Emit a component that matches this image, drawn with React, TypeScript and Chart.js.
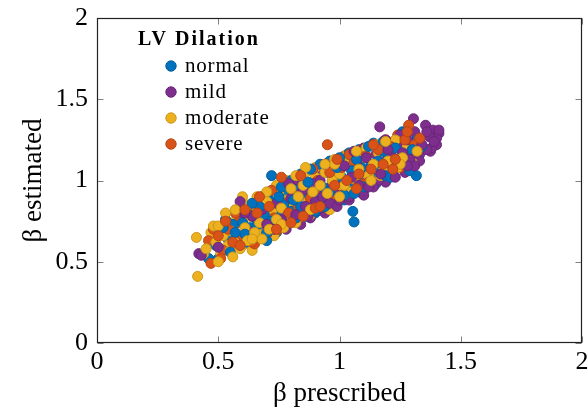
import React, { useEffect, useRef } from 'react';
import { Chart, registerables } from 'chart.js';

Chart.register(...registerables);

const legendTitle = 'LV Dilation';
const seriesNames = ['normal', 'mild', 'moderate', 'severe'];
const seriesColors = ['#0072bd', '#7e2f8e', '#edb120', '#d95319'];
const seriesBorders = ['#005f9e', '#682577', '#c9971b', '#b84515'];
const xTickValues = [0, 0.5, 1, 1.5, 2];
const yTickValues = [0, 0.5, 1, 1.5, 2];
const xTitle = 'β prescribed';
const yTitle = 'β estimated';

const normalPoints: [number, number][] = [
  [0.46, 0.52], [0.49, 0.6], [0.52, 0.71], [0.54, 0.64], [0.56, 0.73], [0.57, 0.68], [0.58, 0.62],
  [0.6, 0.74], [0.61, 0.67], [0.62, 0.8], [0.63, 0.71], [0.64, 0.65], [0.65, 0.77], [0.66, 0.72],
  [0.67, 0.84], [0.68, 0.7], [0.69, 0.79], [0.7, 0.63], [0.71, 0.88], [0.72, 1.03], [0.72, 0.75],
  [0.73, 0.82], [0.74, 0.68], [0.75, 0.9], [0.76, 0.79], [0.77, 0.85], [0.78, 0.73], [0.79, 0.93],
  [0.8, 0.81], [0.81, 0.88], [0.82, 0.76], [0.83, 0.97], [0.84, 0.84], [0.85, 0.91], [0.86, 0.78],
  [0.87, 0.99], [0.88, 0.86], [0.89, 0.94], [0.9, 0.81], [0.91, 1.02], [0.92, 0.9], [0.93, 0.96],
  [0.94, 0.85], [0.95, 1.05], [0.96, 0.93], [0.97, 0.99], [0.98, 0.88], [0.99, 1.08], [1.0, 0.95],
  [1.01, 1.02], [1.02, 0.91], [1.03, 1.1], [1.04, 0.98], [1.05, 1.06], [1.055, 0.81], [1.06, 0.745],
  [1.07, 1.13], [1.08, 1.0], [1.09, 1.08], [1.1, 0.96], [1.11, 1.15], [1.12, 1.04], [1.13, 1.1],
  [1.14, 1.23], [1.15, 1.01], [1.16, 1.12], [1.17, 1.07], [1.18, 1.18], [1.19, 1.03], [1.2, 1.14],
  [1.22, 1.09], [1.23, 1.2], [1.24, 1.12], [1.26, 1.3], [1.27, 1.16], [1.28, 1.23], [1.29, 1.06],
  [1.3, 1.19], [1.317, 1.03], [1.32, 1.25], [1.34, 1.21],
  [0.5, 0.52], [0.53, 0.76], [0.55, 0.56], [0.59, 0.82], [0.62, 0.62], [0.64, 0.86], [0.66, 0.66],
  [0.68, 0.9], [0.7, 0.68], [0.71, 0.93], [0.74, 0.72], [0.76, 0.96], [0.78, 0.74], [0.8, 1.0],
  [0.82, 0.77], [0.84, 1.04], [0.86, 0.8], [0.88, 1.07], [0.9, 0.8], [0.92, 1.1], [0.94, 0.84],
  [0.96, 1.12], [0.98, 0.87], [1.0, 1.14], [1.02, 0.88], [1.04, 1.17], [1.06, 0.92], [1.08, 1.19],
  [1.1, 0.94], [1.12, 1.21], [1.15, 0.98], [1.18, 1.24], [1.21, 1.02], [1.25, 1.27], [1.29, 1.1],
];

const mildPoints: [number, number][] = [
  [0.42, 0.55], [0.43, 0.54], [0.5, 0.59], [0.55, 0.7], [0.58, 0.63], [0.59, 0.87], [0.6, 0.76],
  [0.62, 0.69], [0.64, 0.78], [0.66, 0.66], [0.68, 0.82], [0.7, 0.73], [0.72, 0.69], [0.74, 0.86],
  [0.76, 0.76], [0.78, 0.7], [0.8, 0.89], [0.82, 0.79], [0.84, 0.73], [0.85, 0.94], [0.86, 0.84],
  [0.88, 0.77], [0.89, 0.98], [0.9, 0.87], [0.91, 0.82], [0.92, 1.0], [0.93, 0.9], [0.94, 0.8],
  [0.95, 0.95], [0.96, 0.86], [0.97, 1.06], [0.98, 0.92], [0.99, 0.84], [1.0, 0.99], [1.01, 0.9],
  [1.02, 1.09], [1.03, 0.95], [1.04, 0.88], [1.05, 1.02], [1.06, 0.93], [1.07, 1.11], [1.08, 0.97],
  [1.09, 1.05], [1.1, 0.91], [1.11, 1.14], [1.12, 1.0], [1.13, 1.08], [1.14, 0.96], [1.15, 1.16],
  [1.166, 1.33], [1.17, 1.04], [1.18, 1.11], [1.19, 0.99], [1.2, 1.19], [1.21, 1.07], [1.22, 1.14],
  [1.23, 1.02], [1.24, 1.22], [1.25, 1.1], [1.26, 1.17], [1.27, 1.05], [1.28, 1.25], [1.29, 1.13],
  [1.3, 1.2], [1.305, 1.38], [1.31, 1.09], [1.32, 1.27], [1.33, 1.16], [1.34, 1.22], [1.355, 1.34],
  [1.36, 1.19], [1.37, 1.27], [1.375, 1.18], [1.385, 1.31], [1.39, 1.24], [1.4, 1.22], [1.41, 1.29],
  [1.41, 1.31],
  [0.52, 0.72], [0.57, 0.6], [0.61, 0.8], [0.65, 0.64], [0.69, 0.88], [0.73, 0.7], [0.75, 0.95],
  [0.77, 0.72], [0.79, 0.98], [0.81, 0.76], [0.83, 1.0], [0.87, 0.78], [0.9, 1.06], [0.92, 0.83],
  [0.94, 1.1], [0.96, 0.85], [0.98, 1.12], [1.0, 0.88], [1.02, 1.15], [1.04, 0.9], [1.06, 1.18],
  [1.08, 0.93], [1.1, 1.2], [1.12, 0.96], [1.14, 1.22], [1.16, 1.0], [1.19, 1.25], [1.22, 1.03],
  [1.25, 1.28], [1.28, 1.09], [1.31, 1.3], [1.33, 1.12], [1.36, 1.3], [1.38, 1.2], [1.4, 1.26],
];

const moderatePoints: [number, number][] = [
  [0.41, 0.65], [0.415, 0.41], [0.45, 0.58], [0.47, 0.68], [0.49, 0.62], [0.5, 0.72], [0.51, 0.55],
  [0.52, 0.66], [0.53, 0.8], [0.54, 0.6], [0.55, 0.69], [0.56, 0.53], [0.57, 0.75], [0.58, 0.65],
  [0.59, 0.58], [0.6, 0.9], [0.61, 0.71], [0.62, 0.63], [0.63, 0.78], [0.64, 0.57], [0.65, 0.68],
  [0.66, 0.83], [0.67, 0.74], [0.68, 0.64], [0.69, 0.77], [0.7, 0.87], [0.71, 0.7], [0.72, 0.81],
  [0.73, 0.66], [0.74, 0.76], [0.75, 0.92], [0.76, 0.83], [0.77, 0.71], [0.78, 0.88], [0.79, 0.78],
  [0.8, 0.95], [0.81, 0.85], [0.82, 0.74], [0.83, 0.9], [0.84, 0.8], [0.85, 0.97], [0.86, 1.08],
  [0.87, 0.87], [0.88, 0.79], [0.89, 0.93], [0.9, 1.02], [0.91, 0.84], [0.92, 0.97], [0.93, 0.89],
  [0.94, 1.05], [0.95, 0.92], [0.96, 0.82], [0.97, 1.0], [0.98, 1.1], [0.99, 0.94], [1.0, 1.04],
  [1.02, 0.97], [1.04, 1.12], [1.06, 1.01], [1.08, 1.07], [1.1, 1.14], [1.12, 1.03], [1.14, 1.1],
  [1.16, 1.17], [1.18, 1.06], [1.2, 1.12], [1.22, 1.19], [1.24, 1.08], [1.26, 1.14], [1.28, 1.21],
  [1.3, 1.11], [1.32, 1.18],
  [0.44, 0.55], [0.48, 0.72], [0.5, 0.5], [0.53, 0.74], [0.55, 0.57], [0.57, 0.82], [0.6, 0.6],
  [0.62, 0.85], [0.64, 0.64], [0.66, 0.9], [0.68, 0.67], [0.7, 0.93], [0.72, 0.7], [0.74, 0.97],
  [0.76, 0.73], [0.78, 1.0], [0.8, 0.76], [0.82, 1.03], [0.84, 0.78], [0.86, 1.05], [0.88, 0.82],
  [0.9, 1.08], [0.92, 0.85], [0.94, 1.1], [0.96, 0.88], [0.98, 1.13], [1.0, 0.9], [1.03, 1.16],
  [1.05, 0.93], [1.07, 1.18], [1.09, 0.97], [1.11, 1.2], [1.13, 1.0], [1.15, 1.22], [1.17, 1.03],
  [1.19, 1.24], [1.21, 1.06], [1.23, 1.25], [1.25, 1.1], [1.27, 1.27],
];

const severePoints: [number, number][] = [
  [0.46, 0.63], [0.47, 0.49], [0.5, 0.66], [0.52, 0.57], [0.54, 0.7], [0.56, 0.62], [0.58, 0.74],
  [0.6, 0.66], [0.61, 0.82], [0.63, 0.7], [0.65, 0.61], [0.66, 0.8], [0.68, 0.73], [0.7, 0.67],
  [0.71, 0.84], [0.73, 0.77], [0.75, 0.7], [0.76, 1.02], [0.77, 0.86], [0.79, 0.8], [0.8, 0.74],
  [0.81, 0.92], [0.83, 0.84], [0.85, 0.78], [0.86, 0.96], [0.88, 0.89], [0.9, 0.83], [0.91, 1.0],
  [0.93, 0.93], [0.95, 1.22], [0.95, 0.87], [0.96, 1.05], [0.98, 0.97], [1.0, 0.91], [1.01, 1.08],
  [1.03, 1.0], [1.05, 0.94], [1.06, 1.12], [1.08, 1.04], [1.1, 0.98], [1.11, 1.15], [1.13, 1.07],
  [1.15, 1.02], [1.16, 1.19], [1.18, 1.1], [1.2, 1.05], [1.21, 1.21], [1.23, 1.13], [1.25, 1.08],
  [1.27, 1.25], [1.285, 1.34], [1.29, 1.16], [1.31, 1.22], [1.33, 1.26],
  [0.48, 0.7], [0.51, 0.52], [0.53, 0.75], [0.55, 0.56], [0.57, 0.8], [0.59, 0.6], [0.62, 0.84],
  [0.64, 0.62], [0.67, 0.9], [0.69, 0.66], [0.72, 0.94], [0.74, 0.7], [0.78, 0.98], [0.82, 0.77],
  [0.84, 1.03], [0.87, 0.8], [0.89, 1.07], [0.92, 0.84], [0.94, 1.1], [0.97, 0.88], [0.99, 1.13],
  [1.02, 0.9], [1.04, 1.16], [1.07, 0.95], [1.09, 1.19], [1.12, 0.99], [1.14, 1.22], [1.17, 1.03],
  [1.19, 1.25], [1.22, 1.07], [1.24, 1.28], [1.26, 1.1], [1.28, 1.3], [1.3, 1.13],
];

const allSeries = [normalPoints, mildPoints, moderatePoints, severePoints];
const LAYERS = 3;

const FONT = '"Liberation Serif", "Times New Roman", serif';

const framePlugin = {
  id: 'frame',
  beforeDatasetsDraw(chart: any) {
    const { ctx, chartArea, scales } = chart;
    const l = Math.round(chartArea.left) + 0.5;
    const r = Math.round(chartArea.right) - 0.5;
    const t = Math.round(chartArea.top) + 0.5;
    const b = Math.round(chartArea.bottom) - 0.5;
    ctx.save();
    ctx.strokeStyle = '#808080';
    ctx.lineWidth = 1;
    ctx.beginPath();
    xTickValues.forEach((v) => {
      const px = Math.round(scales.x.getPixelForValue(v)) + 0.5;
      ctx.moveTo(px, b);
      ctx.lineTo(px, b - 6);
      ctx.moveTo(px, t);
      ctx.lineTo(px, t + 6);
    });
    yTickValues.forEach((v) => {
      const py = Math.round(scales.y.getPixelForValue(v)) + 0.5;
      ctx.moveTo(l, py);
      ctx.lineTo(l + 6, py);
      ctx.moveTo(r, py);
      ctx.lineTo(r - 6, py);
    });
    ctx.stroke();
    ctx.strokeStyle = '#222';
    ctx.lineWidth = 1.2;
    ctx.strokeRect(l, t, r - l, b - t);
    ctx.restore();
  },
};

const legendPlugin = {
  id: 'insideLegend',
  afterDraw(chart: any) {
    const { ctx, chartArea } = chart;
    const x0 = chartArea.left;
    const y0 = chartArea.top;
    ctx.save();
    ctx.fillStyle = '#000';
    ctx.textBaseline = 'alphabetic';
    ctx.textAlign = 'left';
    ctx.font = `bold 20px ${FONT}`;
    (ctx as any).letterSpacing = '2px';
    ctx.fillText(legendTitle, x0 + 41, y0 + 27);
    ctx.font = `21px ${FONT}`;
    (ctx as any).letterSpacing = '0.8px';
    seriesNames.forEach((name, i) => {
      const cy = y0 + 48 + i * 26;
      ctx.beginPath();
      ctx.arc(x0 + 74, cy, 5.2, 0, Math.PI * 2);
      ctx.fillStyle = seriesColors[i];
      ctx.fill();
      ctx.lineWidth = 1;
      ctx.strokeStyle = seriesBorders[i];
      ctx.stroke();
      ctx.fillStyle = '#000';
      ctx.fillText(name, x0 + 88, cy + 6);
    });
    (ctx as any).letterSpacing = '0px';
    ctx.restore();
  },
};

export default function App() {
  const canvasRef = useRef<HTMLCanvasElement | null>(null);

  useEffect(() => {
    document.body.style.margin = '0';
    const canvas = canvasRef.current;
    if (!canvas) return;
    const datasets: any[] = [];
    const total = LAYERS * seriesNames.length;
    for (let k = 0; k < LAYERS; k++) {
      seriesNames.forEach((name, i) => {
        const idx = datasets.length;
        datasets.push({
          label: name,
          data: allSeries[i]
            .filter((_, j) => j % LAYERS === k)
            .map(([x, y]) => ({ x, y })),
          backgroundColor: seriesColors[i],
          borderColor: seriesBorders[i],
          borderWidth: 1,
          pointRadius: 5,
          pointHoverRadius: 5,
          order: total - 1 - idx,
        });
      });
    }
    const chart = new Chart(canvas, {
      type: 'scatter',
      data: { datasets },
      options: {
        responsive: false,
        animation: false,
        layout: { padding: { top: 18, right: 3, left: 0, bottom: 0 } },
        plugins: {
          legend: { display: false },
          tooltip: { enabled: false },
        },
        scales: {
          x: {
            type: 'linear',
            min: 0,
            max: 2,
            grid: { display: false, drawTicks: false },
            border: { display: false },
            ticks: {
              stepSize: 0.5,
              padding: 4,
              color: '#000',
              font: { family: FONT, size: 26 },
              maxRotation: 0,
              callback: (v: any) => String(v),
            },
            title: {
              display: true,
              text: xTitle,
              color: '#000',
              font: { family: FONT, size: 27 },
              padding: { top: 0, bottom: 2 },
            },
            afterFit: (scale: any) => {
              scale.height = 69;
              scale.paddingLeft = 0;
              scale.paddingRight = 0;
            },
          },
          y: {
            type: 'linear',
            min: 0,
            max: 2,
            grid: { display: false, drawTicks: false },
            border: { display: false },
            ticks: {
              stepSize: 0.5,
              padding: 9,
              color: '#000',
              font: { family: FONT, size: 26 },
              callback: (v: any) => String(v),
            },
            title: {
              display: true,
              text: yTitle,
              color: '#000',
              font: { family: FONT, size: 27 },
              padding: { top: 18, bottom: 0 },
            },
            afterFit: (scale: any) => {
              scale.width = 97;
              scale.paddingTop = 0;
              scale.paddingBottom = 0;
            },
          },
        },
      },
      plugins: [framePlugin, legendPlugin],
    });
    return () => chart.destroy();
  }, []);

  return (
    <div style={{ position: 'absolute', left: 0, top: 0, width: 588, height: 412 }}>
      <canvas ref={canvasRef} width={588} height={412} />
    </div>
  );
}
